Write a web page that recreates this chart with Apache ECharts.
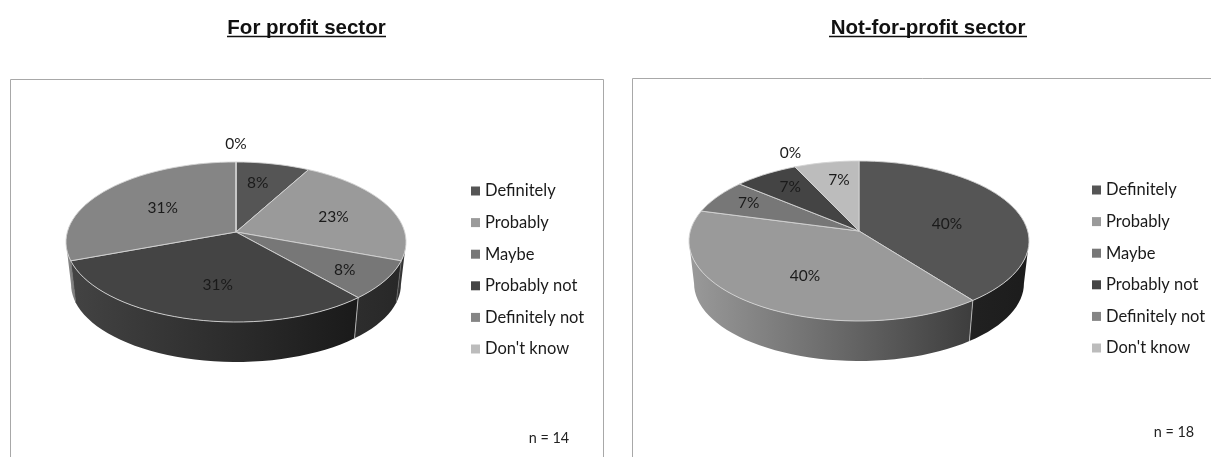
<!DOCTYPE html>
<html>
<head>
<meta charset="utf-8">
<style>html,body{margin:0;padding:0;background:#fff}#chart{width:1211px;height:457px}</style>
<script src="https://cdn.jsdelivr.net/npm/echarts@6/dist/echarts.min.js"></script>
</head>
<body>
<div id="chart"></div>
<script>
// Survey responses by sector
const categories = ['Definitely', 'Probably', 'Maybe', 'Probably not', 'Definitely not', "Don't know"];
const forProfitValues = [8, 23, 8, 31, 31, 0];
const notForProfitValues = [40, 40, 7, 7, 0, 7];
const chartTitles = ['For profit sector', 'Not-for-profit sector'];
const sampleSizes = ['n = 14', 'n = 18'];

// Slice fill per category
const sliceColors = ['#555555', '#9a9a9a', '#777777', '#444444', '#858585', '#bcbcbc'];

// Tilted-disc geometry: apex of the slices, radii and the perspective strength
const PERSPECTIVE = 0.125;
const RX = 168.7, RY = 78.75;
const DEPTH_SCALE = 0.97;
const pies = [
  { cx: 236, cy: 232, baseCy: 274.7, values: forProfitValues,
    labelReach: [0.7, 0.68, 0.75, 0.63, 0.55, 1.3],
    labelNudge: [[-5, 0], [-7, 3], [-1, 2], [10, 1], [0, 0], [0, 0]] },
  { cx: 859, cy: 231, baseCy: 273.7, values: notForProfitValues,
    labelReach: [0.55, 0.58, 0.77, 0.72, 1.17, 0.75],
    labelNudge: [[2, 7], [4, 5], [0, -1], [0, -2], [5, -4], [5, 2]] }
];

// Perspective projection of a point on the unit disc (v grows toward the viewer)
function project(pie, u, v, base) {
  const d = 1 - PERSPECTIVE * v;
  const s = base ? DEPTH_SCALE : 1;
  return [pie.cx + s * RX * u / d, (base ? pie.baseCy : pie.cy) + s * RY * v / d];
}
function rim(pie, t, base, reach) {
  const a = t * Math.PI * 2, r = reach === undefined ? 1 : reach;
  return project(pie, r * Math.sin(a), -r * Math.cos(a), base);
}
function arc(pie, t0, t1, base) {
  const n = Math.max(1, Math.ceil((t1 - t0) * 120));
  const out = [];
  for (let i = 0; i <= n; i++) out.push(rim(pie, t0 + (t1 - t0) * i / n, base));
  return out;
}
function shade(hex, f) {
  const n = parseInt(hex.slice(1), 16);
  const c = [n >> 16, (n >> 8) & 255, n & 255].map(x => Math.round(x * f));
  return 'rgb(' + c.join(',') + ')';
}

// Side wall lies on the part of the rim that faces the viewer
const VIS_START = Math.acos(-PERSPECTIVE) / (2 * Math.PI);
const VIS_END = 1 - VIS_START;

function sliceRenderer(pie, index) {
  return function (params, api) {
    const t0 = api.value(0), t1 = api.value(1), value = api.value(2);
    const children = [];
    const w0 = Math.max(t0, VIS_START), w1 = Math.min(t1, VIS_END);
    if (w1 > w0) {
      const left = pie.cx - RX - 2, right = pie.cx + RX + 2;
      const base = sliceColors[index];
      children.push({
        type: 'polygon',
        z2: 1,
        shape: { points: arc(pie, w0, w1, false).concat(arc(pie, w0, w1, true).reverse()) },
        style: {
          fill: new echarts.graphic.LinearGradient(left, 0, right, 0, [
            { offset: 0, color: shade(base, 1) },
            { offset: 0.85, color: shade(base, 0.38) },
            { offset: 1, color: shade(base, 0.33) }
          ], true),
          stroke: null
        }
      });
      if (t1 < VIS_END && t1 > VIS_START) {
        const a = rim(pie, t1, false), b = rim(pie, t1, true);
        const towardViewer = -Math.cos(t1 * Math.PI * 2);
        children.push({
          type: 'line', z2: 2,
          shape: { x1: a[0], y1: a[1], x2: b[0], y2: b[1] },
          style: { stroke: towardViewer > 0.5 ? '#c8c8c8' : '#6e6e6e', lineWidth: 0.8 }
        });
      }
    }
    children.push({
      type: 'polygon',
      z2: 3,
      shape: { points: [[pie.cx, pie.cy]].concat(arc(pie, t0, t1, false)) },
      style: { fill: sliceColors[index], stroke: '#d4d4d4', lineWidth: 0.9 }
    });
    const at = rim(pie, (t0 + t1) / 2, false, pie.labelReach[index]);
    const nudge = pie.labelNudge[index];
    children.push({
      type: 'text',
      z2: 10,
      x: at[0] + nudge[0],
      y: at[1] + nudge[1],
      style: {
        text: value + '%',
        fill: '#1a1a1a',
        font: '15.5px Lato',
        align: 'center',
        verticalAlign: 'middle'
      }
    });
    return { type: 'group', children };
  };
}

const series = [];
pies.forEach(pie => {
  const total = pie.values.reduce((a, b) => a + b, 0);
  let run = 0;
  pie.values.forEach((v, i) => {
    const start = run / total;
    run += v;
    series.push({
      type: 'custom',
      name: categories[i],
      coordinateSystem: 'none',
      silent: true,
      itemStyle: { color: sliceColors[i] },
      renderItem: sliceRenderer(pie, i),
      data: [[start, run / total, v]]
    });
  });
});

const legendBase = {
  orient: 'vertical',
  data: categories.map(name => ({ name, icon: 'rect' })),
  itemWidth: 9,
  itemHeight: 9,
  itemGap: 13.6,
  selectedMode: false,
  textStyle: { fontFamily: 'Lato', fontSize: 16.5, color: '#1a1a1a', lineHeight: 18 }
};
const titleBase = {
  top: 18,
  padding: 0,
  textAlign: 'center',
  textStyle: { fontFamily: 'Liberation Sans', fontSize: 20.5, fontWeight: 'bold', color: '#111' }
};
const frameStyle = { fill: 'none', stroke: '#a8a8a8', lineWidth: 1 };
const noteStyle = { fill: '#222', font: '14.4px Lato', align: 'center', verticalAlign: 'middle' };

const chart = echarts.init(document.getElementById('chart'), null, { renderer: 'canvas' });
chart.setOption({
  animation: false,
  backgroundColor: '#fff',
  title: [
    Object.assign({}, titleBase, { text: chartTitles[0], left: 306.5 }),
    Object.assign({}, titleBase, { text: chartTitles[1], left: 928 })
  ],
  legend: [
    Object.assign({}, legendBase, { left: 471, top: 182, padding: 0 }),
    Object.assign({}, legendBase, { left: 1092, top: 181, padding: 0 })
  ],
  graphic: [
    { type: 'rect', z: 0, shape: { x: 10.5, y: 79.5, width: 593, height: 400 }, style: frameStyle },
    { type: 'rect', z: 0, shape: { x: 632.5, y: 78.5, width: 700, height: 400 }, style: frameStyle },
    { type: 'line', shape: { x1: 227, y1: 36.5, x2: 386, y2: 36.5 }, style: { stroke: '#111', lineWidth: 1.5 } },
    { type: 'line', shape: { x1: 829, y1: 36.5, x2: 1027, y2: 36.5 }, style: { stroke: '#111', lineWidth: 1.5 } },
    { type: 'text', x: 549, y: 438, style: Object.assign({ text: sampleSizes[0] }, noteStyle) },
    { type: 'text', x: 1174, y: 432, style: Object.assign({ text: sampleSizes[1] }, noteStyle) }
  ],
  series
});
</script>
</body>
</html>
